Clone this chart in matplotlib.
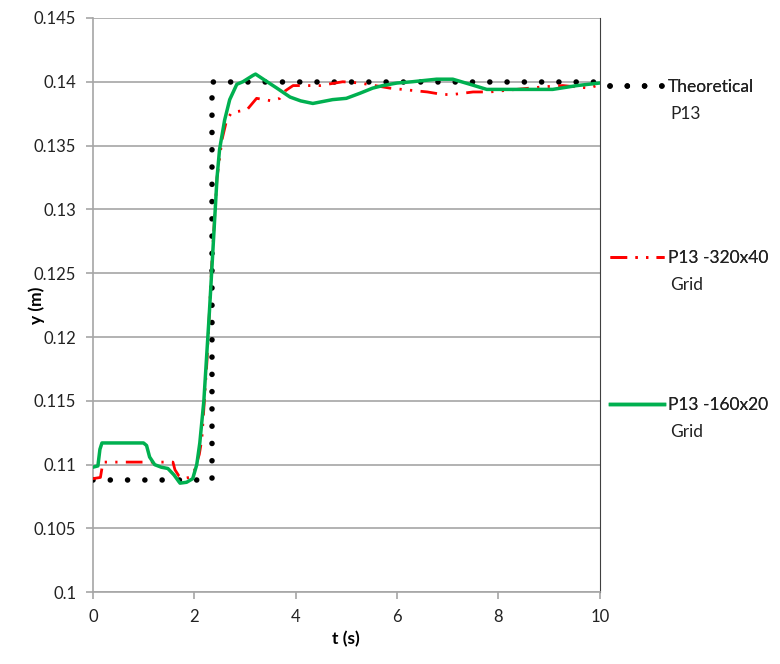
import matplotlib.pyplot as plt
import numpy as np

plt.rcParams['font.family'] = ['Lato', 'DejaVu Sans']

# theoretical step
t_theo = [0, 2.35, 2.35, 10]
y_theo = [0.1088, 0.1088, 0.1400, 0.1400]

# P13 -320x40 grid
t_320 = [0, 0.15, 0.2, 0.5, 1.12, 1.58, 1.62, 1.70, 1.78, 1.9, 2.0, 2.1, 2.15, 2.25,
         2.35, 2.45, 2.55, 2.64, 2.74, 2.9, 3.04, 3.23, 3.53, 3.69, 3.8, 3.95, 4.2,
         4.48, 4.93, 5.27, 5.86, 6.1, 6.6, 6.9, 7.1, 7.5, 7.83, 8.88, 9.27, 9.8, 10]
y_320 = [0.1089, 0.1090, 0.1102, 0.1102, 0.1102, 0.1102, 0.1096, 0.1091, 0.1089,
         0.1090, 0.1095, 0.1108, 0.1120, 0.1180, 0.1260, 0.1325, 0.1355, 0.1370,
         0.1376, 0.1377, 0.1378, 0.1387, 0.1385, 0.1387, 0.1393, 0.1397, 0.1397,
         0.1397, 0.1400, 0.1399, 0.1395, 0.1394, 0.1392, 0.1390, 0.1390, 0.1392,
         0.1392, 0.1396, 0.1397, 0.1395, 0.1398]

# P13 -160x20 grid
t_160 = [0, 0.1, 0.14, 0.18, 0.6, 1.0, 1.06, 1.12, 1.22, 1.35, 1.48, 1.6, 1.72,
         1.85, 1.97, 2.05, 2.11, 2.19, 2.3, 2.4, 2.45, 2.5, 2.6, 2.7, 2.84, 2.96,
         3.16, 3.21, 3.4, 3.63, 3.89, 4.1, 4.34, 4.73, 5.0, 5.27, 5.52, 5.72, 6.0,
         6.3, 6.78, 7.1, 7.44, 7.77, 8.2, 9.07, 9.55, 10]
y_160 = [0.1098, 0.1099, 0.1112, 0.1117, 0.1117, 0.1117, 0.1115, 0.1106, 0.1100,
         0.1098, 0.1097, 0.1092, 0.10855, 0.10862, 0.1089, 0.1100, 0.1117, 0.1150,
         0.1220, 0.1290, 0.1325, 0.1347, 0.1370, 0.1386, 0.1398, 0.1400, 0.1405,
         0.1406, 0.1401, 0.1395, 0.1388, 0.1385, 0.1383, 0.1386, 0.1387, 0.1391,
         0.1395, 0.1397, 0.1399, 0.1400, 0.1402, 0.1402, 0.1398, 0.1394, 0.1394,
         0.1394, 0.1397, 0.1399]

labels = ['Theoretical', 'P13 -320x40', 'P13 -160x20']
labels2 = ['P13', 'Grid', 'Grid']

fig = plt.figure(figsize=(7.8, 6.64), dpi=100)
ax = fig.add_axes([0.119, 0.108, 0.650, 0.865])

ax.set_xlim(0, 10)
ax.set_ylim(0.1, 0.145)
ax.set_xticks(np.arange(0, 11, 2))
yt = np.arange(0.1, 0.1451, 0.005)
ax.set_yticks(yt)
ax.set_yticklabels(['%g' % round(v, 3) for v in yt])
ax.yaxis.grid(True, color='#a6a6a6', lw=1.2)
ax.set_axisbelow(True)

ax.spines['top'].set_visible(False)
ax.spines['left'].set_color('#a6a6a6')
ax.spines['bottom'].set_color('#a6a6a6')
ax.spines['right'].set_color('#404040')
ax.spines['left'].set_linewidth(1.2)
ax.spines['bottom'].set_linewidth(1.2)
ax.tick_params(axis='both', direction='out', length=5, color='#a6a6a6',
               width=1.2, labelsize=12, labelcolor='#222222', pad=7)

l1, = ax.plot(t_theo, y_theo, color='black', lw=4, ls=(0, (0.01, 3.1)),
              dash_capstyle='round', zorder=3)
l2, = ax.plot(t_320, y_320, color='#ff0000', lw=2, ls=(0, (6, 3, 0.8, 3, 0.8, 3)),
              zorder=4)
l3, = ax.plot(t_160, y_160, color='#00b050', lw=2.5, zorder=5)

ax.set_xlabel('t (s)', fontsize=12.5, fontweight='bold', labelpad=4)
ax.set_ylabel('y (m)', fontsize=12.5, fontweight='bold', labelpad=-8)

legend_y = [0.869, 0.611, 0.390]
for h, lab, lab2, yy in zip([l1, l2, l3], labels, labels2, legend_y):
    lg = fig.legend([h], [lab], loc='center left', bbox_to_anchor=(0.782, yy),
                    frameon=False, fontsize=12.5, handlelength=3.1,
                    handletextpad=0.25, borderaxespad=0, borderpad=0)
    for txt in lg.get_texts():
        txt.set_color('#222222')
    fig.add_artist(lg)
    fig.text(0.859, yy - 0.040, lab2, fontsize=12.5, color='#222222',
             va='center', ha='left')

fig.savefig('out.png', dpi=100)
